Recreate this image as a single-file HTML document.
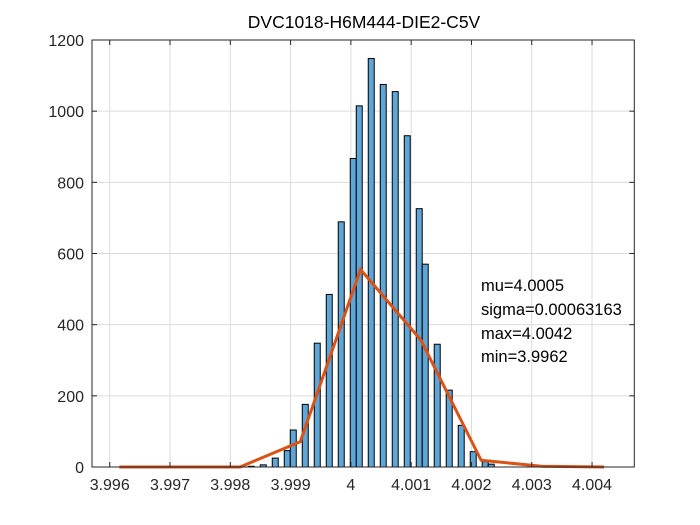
<!DOCTYPE html>
<html><head><meta charset="utf-8"><style>
body{margin:0;background:#fff}
svg{display:block;font-family:"Liberation Sans",Arial,sans-serif}
</style></head><body>
<svg id="c" width="700" height="525" xmlns="http://www.w3.org/2000/svg">
<rect width="700" height="525" fill="#fff"/>
<text x="364" y="28" font-size="17.5" text-anchor="middle" fill="#000">DVC1018-H6M444-DIE2-C5V</text>
<g id="grid"></g>
<g id="bars"></g>
<g id="line"></g>
<rect x="92" y="40" width="542.3" height="427" fill="none" stroke="#262626" stroke-width="1"/>
<g id="ticks"></g>
<g font-size="16.5" fill="#000">
<text x="481" y="291">mu=4.0005</text>
<text x="481" y="315">sigma=0.00063163</text>
<text x="481" y="339">max=4.0042</text>
<text x="481" y="362">min=3.9962</text>
</g>
</svg>
<script>
const binStart = 3.998298;
const binWidth = 0.0000995;
const counts = [2,0,6,0,25,0,46,104,0,176,0,348,0,485,0,689,0,867,1015,0,1148,0,1075,0,1055,0,931,0,726,570,0,345,0,216,0,117,0,43,0,15,8];
const lineX = [3.99616,3.99716,3.99816,3.99916,4.00016,4.00116,4.00216,4.00316,4.0042];
const lineY = [0,0,0,71,555,357,19,2,0];
const xTicks = [3.996,3.997,3.998,3.999,4,4.001,4.002,4.003,4.004];
const xTickLabels = ["3.996","3.997","3.998","3.999","4","4.001","4.002","4.003","4.004"];
const yTicks = [0,200,400,600,800,1000,1200];

const L=92,R=634.3,T=40,B=467,XMIN=3.995706,XMAX=4.004701,YMIN=0,YMAX=1200;
function sx(v){return L+(v-XMIN)/(XMAX-XMIN)*(R-L);}
function sy(v){return B-(v-YMIN)/(YMAX-YMIN)*(B-T);}
const NS="http://www.w3.org/2000/svg";
function mk(tag,attrs,parent){const e=document.createElementNS(NS,tag);for(const k in attrs)e.setAttribute(k,attrs[k]);parent.appendChild(e);return e;}
const grid=document.getElementById('grid'),bars=document.getElementById('bars'),ticks=document.getElementById('ticks'),line=document.getElementById('line');
xTicks.forEach((v,i)=>{
  const x=sx(v);
  const g=mk('line',{x1:x,x2:x,y1:T,y2:B,stroke:'#dcdcdc','stroke-width':1},grid);
  
  
  const t1=mk('line',{x1:x,x2:x,y1:B,y2:B-5,stroke:'#262626'},ticks);
  
  
  const t2=mk('line',{x1:x,x2:x,y1:T,y2:T+5,stroke:'#262626'},ticks);
  
  
  const lb=mk('text',{x:x,y:B+23,'font-size':16,'text-anchor':'middle',fill:'#262626'},ticks);
  lb.textContent=xTickLabels[i];
  
  
});
yTicks.forEach(v=>{
  const y=sy(v);
  const g=mk('line',{x1:L,x2:R,y1:y,y2:y,stroke:'#dcdcdc','stroke-width':1},grid);
  
  
  const t1=mk('line',{x1:L,x2:L+5,y1:y,y2:y,stroke:'#262626'},ticks);
  
  
  const t2=mk('line',{x1:R,x2:R-5,y1:y,y2:y,stroke:'#262626'},ticks);
  
  
  const lb=mk('text',{x:L-8,y:y+6,'font-size':16,'text-anchor':'end',fill:'#262626'},ticks);
  lb.textContent=String(v);
  
  
});
counts.forEach((c,i)=>{
  if(c<=0)return;
  const x0=sx(binStart+i*binWidth),x1=sx(binStart+(i+1)*binWidth);
  const r=mk('rect',{x:x0,y:sy(c),width:x1-x0,height:sy(0)-sy(c),fill:'#5fa6d6',stroke:'#000','stroke-width':1},bars);
  
  
});
const pts=lineX.map((v,i)=>sx(v)+','+sy(lineY[i])).join(' ');
const pl=mk('polyline',{points:pts,fill:'none',stroke:'#d95319','stroke-width':3,'stroke-linejoin':'miter'},line);


</script>
</body></html>
